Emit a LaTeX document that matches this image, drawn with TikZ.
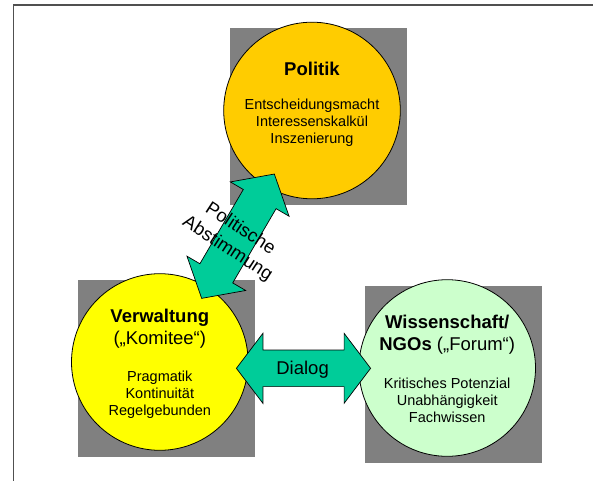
\documentclass[tikz,border=0pt]{standalone}
\usepackage{fontspec}
\setmainfont{Liberation Sans}
\begin{document}
\begin{tikzpicture}[x=1pt,y=-1pt,
  shadowsq/.style={fill=shadowgray, draw=none, minimum size=176.6pt, inner sep=0pt, rectangle},
  bubble/.style={circle, draw=black, line width=0.8pt, minimum size=176.6pt, inner sep=0pt},
  arrowshape/.style={fill=arrowgreen, draw=black, line width=0.7pt, line join=miter},
  titletext/.style={inner sep=0pt, align=center, font=\fontsize{18.5}{22}\selectfont},
  bodytext/.style={inner sep=0pt, align=center, font=\fontsize{14.5}{17}\selectfont},
  arrowtext/.style={inner sep=0pt, align=center, font=\fontsize{18.5}{23.5}\selectfont}
]
\definecolor{shadowgray}{RGB}{128,128,128}
\definecolor{arrowgreen}{RGB}{0,204,153}
\definecolor{polorange}{RGB}{255,204,0}
\definecolor{verwyellow}{RGB}{255,255,0}
\definecolor{wissgreen}{RGB}{204,255,204}
\definecolor{framegray}{RGB}{80,80,80}
\useasboundingbox (0,0) rectangle (593,481);
\fill[white] (0,0) rectangle (593,481);
% frame
\coordinate (ftr) at (593,4.9);
\coordinate (ftl) at (13.3,4.9);
\coordinate (fbl) at (13.3,481);
\draw[framegray, line width=1.3pt] (ftr) -- (ftl) -- (fbl);
% shadow squares
\node[shadowsq] (polsq) at (318.3,116.5) {};
\node[shadowsq] (verwsq) at (166.2,368.3) {};
\node[shadowsq] (wisssq) at (453.3,374.3) {};
% circles
\node[bubble, fill=polorange] (pol) at (312,110.5) {};
\node[bubble, fill=verwyellow] (verw) at (159.8,362) {};
\node[bubble, fill=wissgreen] (wiss) at (447.2,368) {};
% texts
\node[titletext] (poltitle) at (312,68.5) {\textbf{Politik}};
\node[bodytext] (polbody) at (312,122.6) {Entscheidungsmacht\\Interessenskalkül\\Inszenierung};
\node[titletext] (verwtitle) at (159.8,329) {\textbf{Verwaltung}\\(„Komitee“)};
\node[bodytext] (verwbody) at (159.8,394.3) {Pragmatik\\Kontinuität\\Regelgebunden};
\node[titletext] (wisstitle) at (447.2,335) {\textbf{Wissenschaft/}\\\textbf{NGOs} („Forum“)};
\node[bodytext] (wissbody) at (447.2,400.3) {Kritisches Potenzial\\Unabhängigkeit\\Fachwissen};
% diagonal double arrow
\begin{scope}[shift={(238,236.2)}, rotate=59.7]
\draw[arrowshape] (-72,0) -- (-43,34) -- (-43,19) -- (43,19) -- (43,34) -- (72,0)
  -- (43,-34) -- (43,-19) -- (-43,-19) -- (-43,-34) -- cycle;
\end{scope}
% dialog double arrow
\begin{scope}[shift={(303.5,368.3)}]
\draw[arrowshape] (-67.1,0) -- (-40.6,35) -- (-40.6,18.3) -- (40.6,18.3) -- (40.6,35) -- (67.1,0)
  -- (40.6,-35) -- (40.6,-18.3) -- (-40.6,-18.3) -- (-40.6,-35) -- cycle;
\end{scope}
\node[arrowtext] (dialog) at (302.6,370) {Dialog};
\node[arrowtext, rotate=-33] (abst) at (233.8,239) {Politische\\Abstimmung};
\end{tikzpicture}
\end{document}
